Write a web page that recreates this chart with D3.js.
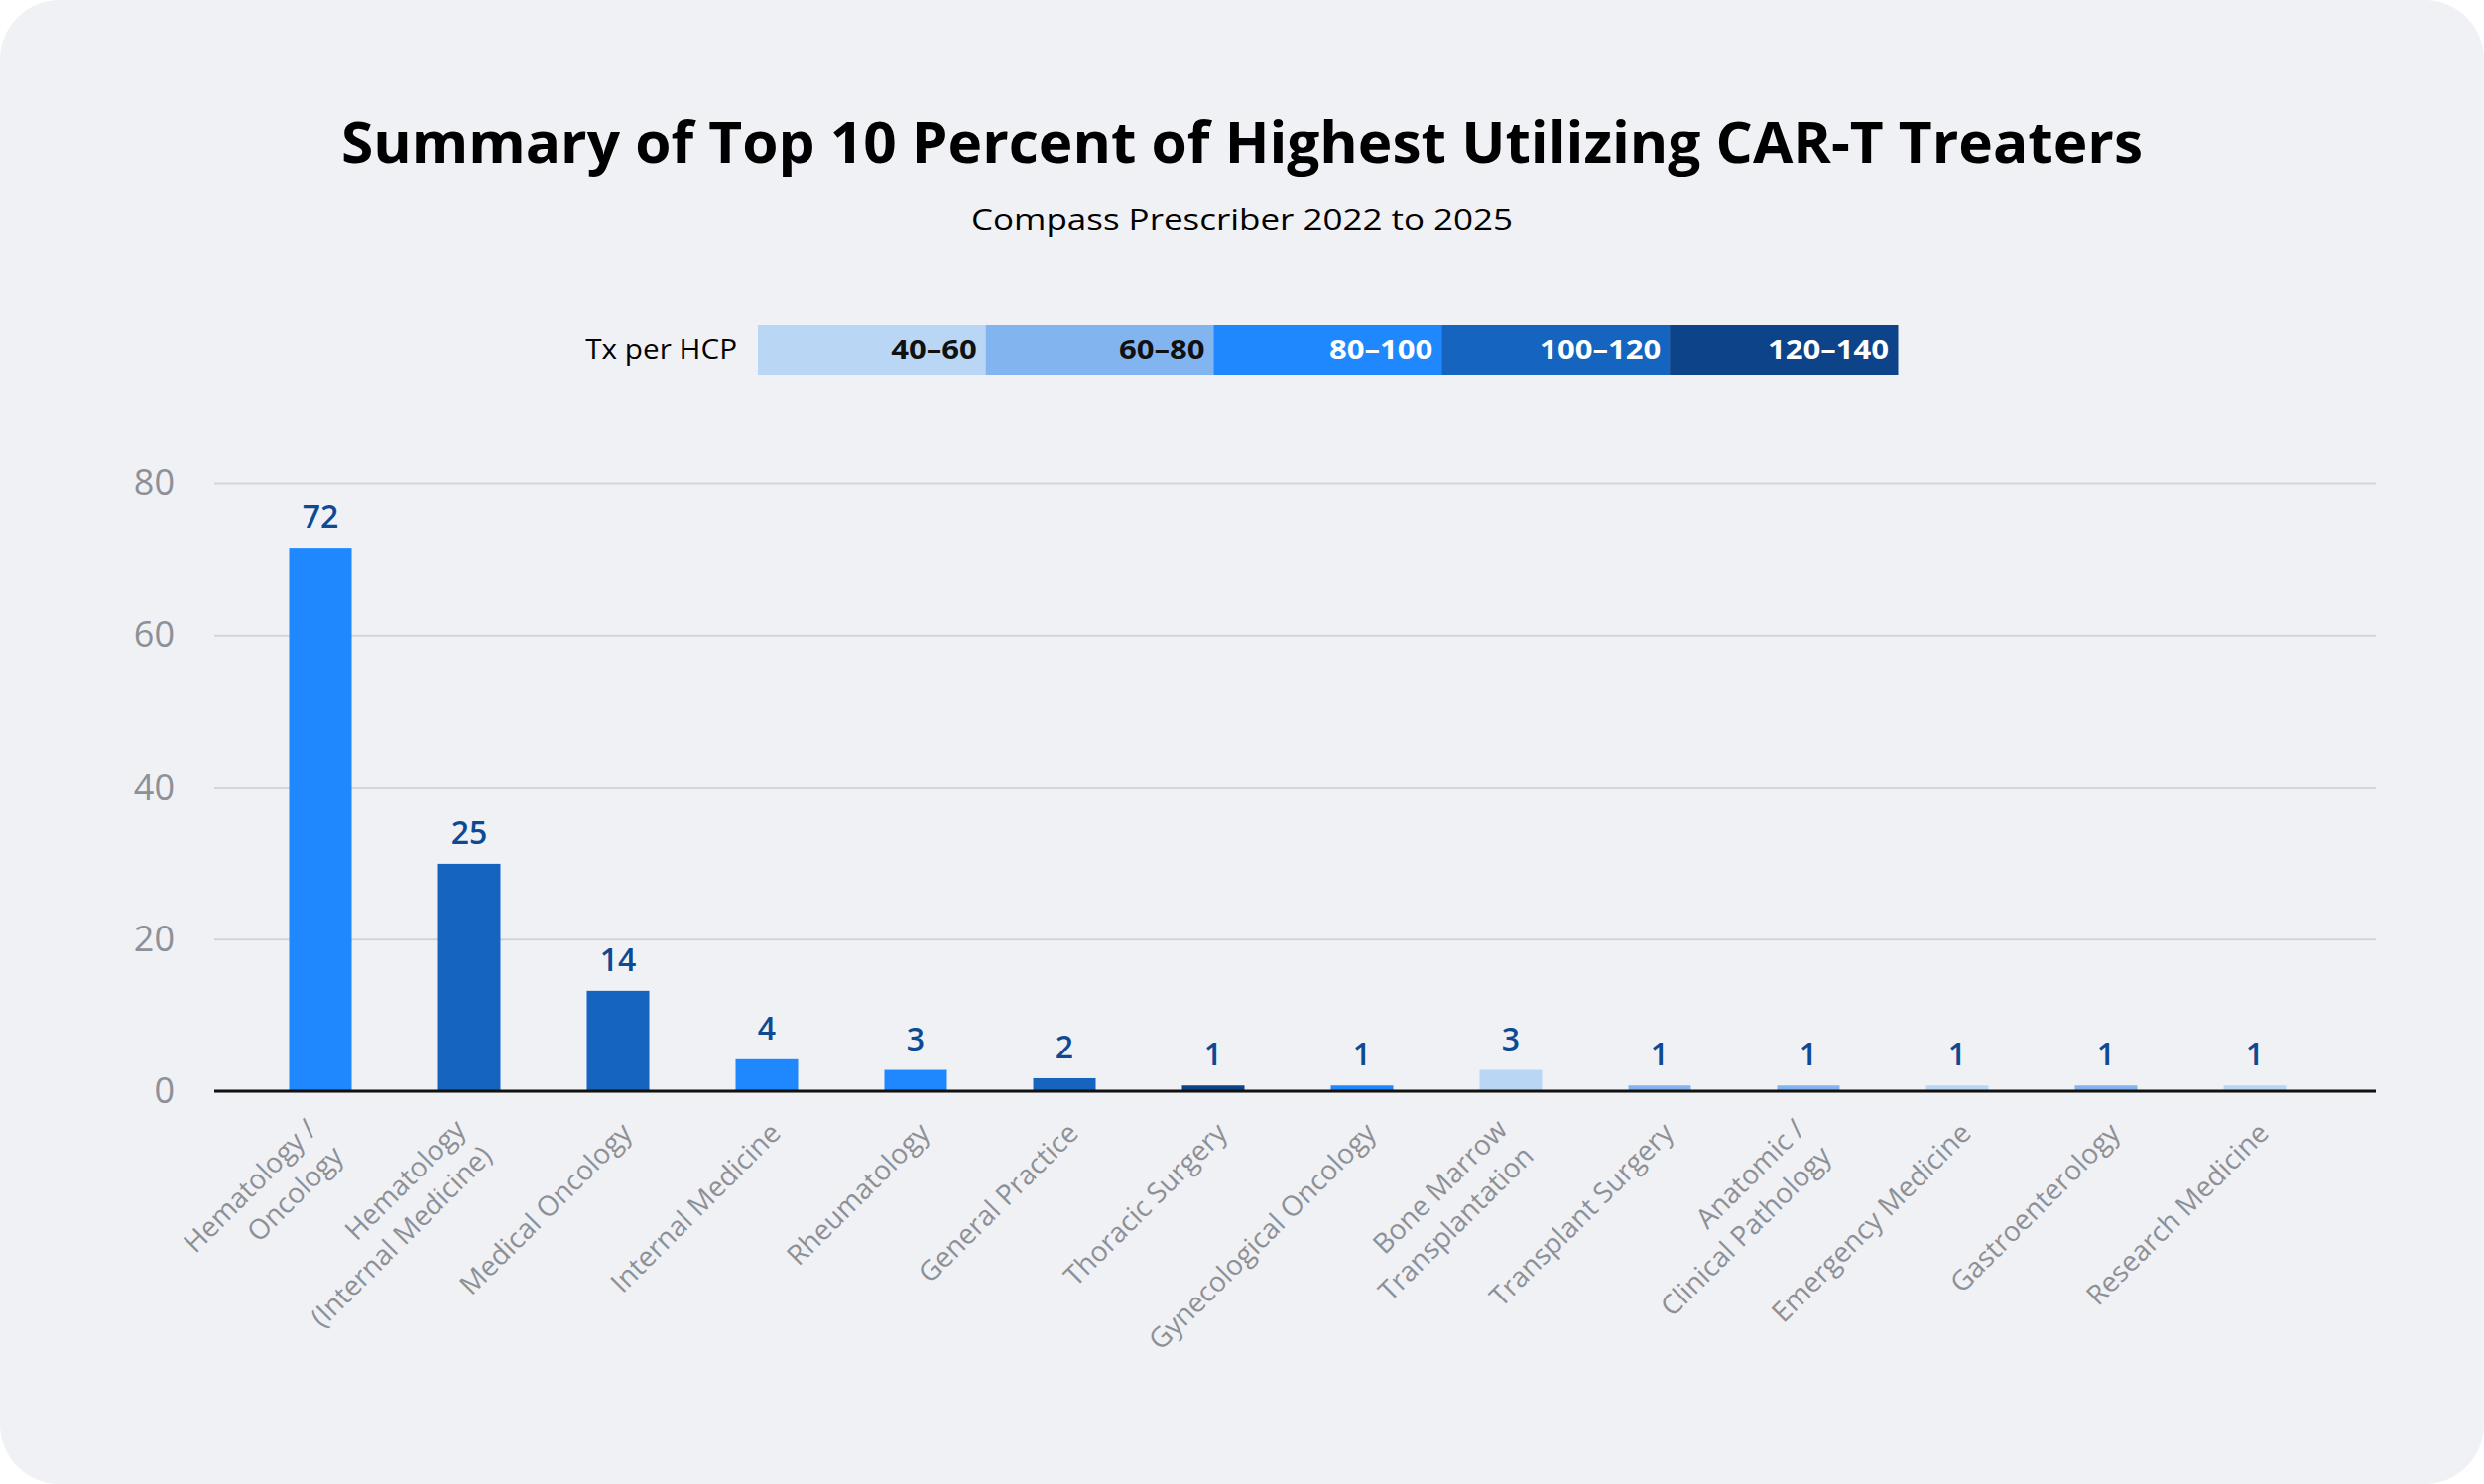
<!DOCTYPE html>
<html>
<head>
<meta charset="utf-8">
<script src="https://cdn.jsdelivr.net/npm/d3@7"></script>
<style>
  html, body { margin: 0; padding: 0; background: #ffffff; }
  svg { display: block; font-family: "Open Sans", "Noto Sans", sans-serif; }
</style>
</head>
<body>
<svg id="chart" width="2504" height="1496"></svg>
<script>
// ---- data ----
const categories = [
  "Hematology /\nOncology",
  "Hematology\n(Internal Medicine)",
  "Medical Oncology",
  "Internal Medicine",
  "Rheumatology",
  "General Practice",
  "Thoracic Surgery",
  "Gynecological Oncology",
  "Bone Marrow\nTransplantation",
  "Transplant Surgery",
  "Anatomic /\nClinical Pathology",
  "Emergency Medicine",
  "Gastroenterology",
  "Research Medicine"
];
const barValues = [71.5, 29.9, 13.2, 4.2, 2.8, 1.7, 0.75, 0.75, 2.8, 0.75, 0.75, 0.75, 0.75, 0.75];
const barLabels = [72, 25, 14, 4, 3, 2, 1, 1, 3, 1, 1, 1, 1, 1];
const barBins   = ["80–100", "100–120", "100–120", "80–100", "80–100", "100–120", "120–140", "80–100",
                   "40–60", "60–80", "60–80", "40–60", "60–80", "40–60"];
const binLabels = ["40–60", "60–80", "80–100", "100–120", "120–140"];
const binColors = ["#BAD6F5", "#82B5EF", "#1F88FE", "#1565C0", "#0D4489"];
const binTextColors = ["#111111", "#111111", "#ffffff", "#ffffff", "#ffffff"];
const yTicks = [0, 20, 40, 60, 80];

const titleText = "Summary of Top 10 Percent of Highest Utilizing CAR-T Treaters";
const subtitleText = "Compass Prescriber 2022 to 2025";
const legendTitle = "Tx per HCP";

// ---- layout ----
const W = 2504, H = 1496;
const plotLeft = 216, plotRight = 2395, plotTop = 487, plotBottom = 1100;

const svg = d3.select("#chart");

// card background
svg.append("rect").attr("x", 0).attr("y", 0).attr("width", W).attr("height", H)
  .attr("rx", 60).attr("ry", 60).attr("fill", "#F0F1F5");

// title
svg.append("text").attr("x", W / 2).attr("y", 164)
  .attr("text-anchor", "middle").attr("font-size", 58).attr("font-weight", 700)
  .attr("fill", "#000").attr("textLength", 1816).attr("lengthAdjust", "spacingAndGlyphs")
  .text(titleText);

svg.append("text").attr("x", W / 2).attr("y", 232)
  .attr("text-anchor", "middle").attr("font-size", 30).attr("font-weight", 400)
  .attr("fill", "#000").attr("textLength", 546).attr("lengthAdjust", "spacingAndGlyphs")
  .text(subtitleText);

// legend
const color = d3.scaleOrdinal().domain(binLabels).range(binColors);
const textColor = d3.scaleOrdinal().domain(binLabels).range(binTextColors);
const legendX = d3.scaleBand().domain(binLabels).range([764, 1913]).padding(0);
const legend = svg.append("g");
legend.append("text").attr("x", 743).attr("y", 362).attr("text-anchor", "end")
  .attr("font-size", 27).attr("fill", "#000").text(legendTitle)
  .each(function () {
    const w = this.getComputedTextLength();
    d3.select(this).attr("textLength", w * 1.1).attr("lengthAdjust", "spacingAndGlyphs");
  });
legend.selectAll("rect.leg").data(binLabels).join("rect").attr("class", "leg")
  .attr("x", d => legendX(d)).attr("y", 328)
  .attr("width", legendX.bandwidth() + 0.5).attr("height", 50)
  .attr("fill", d => color(d));
legend.selectAll("text.leg").data(binLabels).join("text").attr("class", "leg")
  .attr("x", d => legendX(d) + legendX.bandwidth() - 9).attr("y", 362)
  .attr("text-anchor", "end").attr("font-size", 27).attr("font-weight", 700)
  .attr("fill", d => textColor(d)).text(d => d)
  .each(function () {
    const w = this.getComputedTextLength();
    d3.select(this).attr("textLength", w * 1.15).attr("lengthAdjust", "spacingAndGlyphs");
  });

// scales
const x = d3.scaleBand().domain(categories).range([248, 2348])
  .paddingInner(0.58).paddingOuter(0.29);
const y = d3.scaleLinear().domain([0, 80]).range([plotBottom, plotTop]);

// y axis with gridlines
const yAxis = svg.append("g").attr("transform", `translate(${plotLeft},0)`)
  .call(d3.axisLeft(y).tickValues(yTicks).tickSize(-(plotRight - plotLeft)).tickPadding(40));
yAxis.select(".domain").remove();
yAxis.selectAll(".tick line").attr("stroke", "#D3D5DA").attr("stroke-width", 2);
yAxis.selectAll(".tick text").attr("font-size", 36).attr("fill", "#8D9096")
  .attr("font-family", "Open Sans, sans-serif");

// bars
svg.append("g").selectAll("rect").data(categories).join("rect")
  .attr("x", d => x(d)).attr("width", x.bandwidth())
  .attr("y", (d, i) => y(barValues[i]))
  .attr("height", (d, i) => y(0) - y(barValues[i]))
  .attr("fill", (d, i) => color(barBins[i]));

// baseline
svg.append("line").attr("x1", plotLeft).attr("x2", plotRight)
  .attr("y1", y(0)).attr("y2", y(0)).attr("stroke", "#111").attr("stroke-width", 3);

// data labels
svg.append("g").selectAll("text").data(categories).join("text")
  .attr("x", d => x(d) + x.bandwidth() / 2)
  .attr("y", (d, i) => y(barValues[i]) - 20)
  .attr("text-anchor", "middle").attr("font-size", 32).attr("font-weight", 600)
  .attr("fill", "#0E4A94").text((d, i) => barLabels[i]);

// x labels (rotated)
const xl = svg.append("g").selectAll("g").data(categories).join("g")
  .attr("transform", d => `translate(${x(d) + x.bandwidth() / 2},${y(0)}) rotate(-45)`);
xl.each(function (d) {
  const lines = d.split("\n");
  const n = lines.length;
  const g = d3.select(this);
  lines.forEach((ln, i) => {
    g.append("text")
      .attr("x", -20 - 10 * (n - 1))
      .attr("y", 42 + (i - (n - 1) / 2) * 37.5 + (n - 1) * 4)
      .attr("text-anchor", "end").attr("font-size", 28).attr("fill", "#8D9096")
      .text(ln);
  });
});
</script>
</body>
</html>
